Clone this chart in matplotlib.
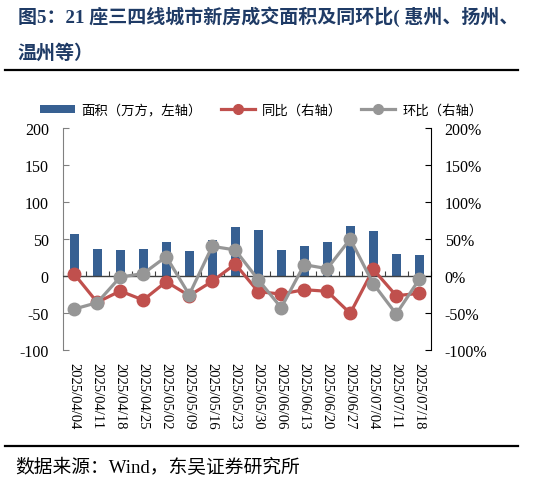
import matplotlib
matplotlib.use("Agg")
import matplotlib.pyplot as plt
from matplotlib.lines import Line2D
from matplotlib.patches import Patch
import numpy as np

plt.rcParams['font.family'] = ['Liberation Serif', 'Noto Sans CJK SC', 'DejaVu Sans']

dates = ["2025/04/04", "2025/04/11", "2025/04/18", "2025/04/25", "2025/05/02",
         "2025/05/09", "2025/05/16", "2025/05/23", "2025/05/30", "2025/06/06",
         "2025/06/13", "2025/06/20", "2025/06/27", "2025/07/04", "2025/07/11",
         "2025/07/18"]
area = [56.4, 36.0, 35.6, 36.5, 46.0, 34.3, 48.7, 65.9, 62.7, 35.6,
        41.0, 45.6, 68.0, 61.3, 29.8, 28.4]
yoy = [2.7, -35.6, -20.3, -32.5, -7.7, -26.6, -7.2, 16.2, -21.2, -24.4,
       -18.5, -20.7, -50.5, 9.0, -26.6, -23.5]
mom = [-44.7, -36.0, -1.4, 3.2, 26.2, -25.3, 40.1, 35.2, -5.0, -42.9,
       15.3, 9.9, 50.0, -10.4, -51.4, -4.5]
left_ticks = [-100, -50, 0, 50, 100, 150, 200]
right_ticks = [-100, -50, 0, 50, 100, 150, 200]

BLUE = "#376092"
RED = "#C0504D"
GRAY = "#969696"
NAVY = "#1F3B66"

fig = plt.figure(figsize=(5.42, 4.81), dpi=100)
ax = fig.add_axes([0.1157, 0.2703, 0.6790, 0.4615])
ax2 = ax.twinx()

x = np.arange(len(dates))
ax.bar(x, area, width=0.4, color=BLUE, zorder=2)
ax.set_xlim(-0.5, len(dates) - 0.5)
ax.set_ylim(-100, 200)
ax.set_yticks(left_ticks)
ax.set_yticklabels([str(v) for v in left_ticks])
ax.axhline(0, color="#404040", lw=1.0, zorder=3)

ax2.plot(x, yoy, color=RED, lw=2.3, marker='o', ms=9, zorder=5)
ax2.plot(x, mom, color=GRAY, lw=2.3, marker='o', ms=9, zorder=6)
ax2.set_ylim(-100, 200)
ax2.set_yticks(right_ticks)
ax2.set_yticklabels([f"{v}%" for v in right_ticks])

for a in (ax, ax2):
    a.spines['top'].set_visible(False)
    a.spines['bottom'].set_visible(False)
ax.spines['left'].set_color("#808080")
ax.spines['right'].set_visible(False)
ax2.spines['left'].set_visible(False)
ax2.spines['right'].set_color("black")

ax.tick_params(axis='y', direction='in', length=4, color="#808080", labelsize=11.5, pad=10)
ax2.tick_params(axis='y', direction='in', length=4, color="black", labelsize=11.5, pad=10)

ax.set_xticks(x)
ax.set_xticklabels(dates, rotation=270, fontsize=10.5)
ax.tick_params(axis='x', length=0, pad=9)

sec = ax.secondary_xaxis(1/3)
sec.set_xticks(np.arange(len(dates) + 1) - 0.5)
sec.tick_params(axis='x', direction='in', length=3.5, color="#404040", labelbottom=False, labeltop=False)
sec.spines['bottom'].set_visible(False)
sec.spines['top'].set_visible(False)
sec.set_xticklabels([])

# Title
fig.text(0.033, 0.966, "图5：21 座三四线城市新房成交面积及同环比( 惠州、扬州、",
         fontsize=13.7, fontweight='bold', color=NAVY, va='center', ha='left')
fig.text(0.033, 0.888, "温州等）", fontsize=13.7, fontweight='bold', color=NAVY,
         va='center', ha='left')
fig.add_artist(Line2D([0.01, 0.955], [0.852, 0.852], color='black', lw=1.6))
fig.add_artist(Line2D([0.01, 0.955], [0.071, 0.071], color='black', lw=1.6))
fig.text(0.028, 0.027, "数据来源：Wind，东吴证券研究所", fontsize=13.5, color='black',
         va='center', ha='left')

handles = [Patch(facecolor=BLUE, edgecolor='none'),
           Line2D([], [], color=RED, lw=2.3, marker='o', ms=7),
           Line2D([], [], color=GRAY, lw=2.3, marker='o', ms=7)]
labels = ["面积（万方，左轴）", "同比（右轴）", "环比（右轴）"]
fig.legend(handles, labels, loc='center', bbox_to_anchor=(0.482, 0.769), ncol=3,
           frameon=False, fontsize=9.6, handlelength=2.6, handleheight=0.6,
           columnspacing=1.4, handletextpad=0.5)

fig.savefig("out.png", dpi=100)
